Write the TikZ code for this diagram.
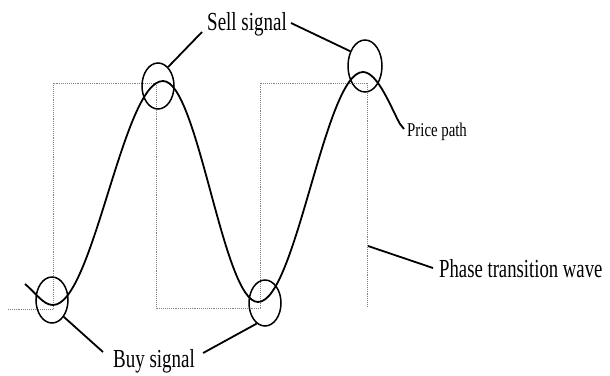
\documentclass[tikz,border=0pt]{standalone}
\usepackage{graphicx}
\usepackage{fontspec}
\setmainfont{Liberation Serif}
\usetikzlibrary{shapes.geometric}
\newcommand\bigtxt[2][0.73]{\scalebox{#1}[1]{\fontsize{26}{30}\selectfont #2}}
\newcommand\smalltxt[1]{\scalebox{0.76}[1]{\fontsize{19.5}{22}\selectfont #1}}
\begin{document}
\begin{tikzpicture}[x=1pt,y=-1pt,
  guide/.style={densely dotted, gray, line width=0.9pt},
  pricecurve/.style={line width=1.8pt, line join=round},
  ring/.style={ellipse, draw, line width=1.5pt, inner sep=0pt},
  pointer/.style={line width=1.8pt},
  lbl/.style={inner sep=0pt, anchor=base west}]
\useasboundingbox (0,0) rectangle (610,375);
% phase transition (square) wave
\draw[guide] (8,309) -- (53,309) -- (53,83) -- (156,83) -- (156,308) -- (260,308) -- (260,83) -- (367,83) -- (367,307);
% labels
\node[lbl] (sell) at (207,30) {\bigtxt{Sell signal}};
\node[lbl] (buy) at (113,367) {\bigtxt{Buy signal}};
\node[lbl] (phase) at (439,277) {\bigtxt[0.72]{Phase transition wave}};
\node[lbl] (price) at (407,136) {\smalltxt{Price path}};
% price path
\coordinate (pend) at (404,129);
\draw[pricecurve] (25,284) .. controls (36,293) and (43,305) .. (53,305)
  .. controls (93,305) and (123,81) .. (163,81)
  .. controls (198,81) and (223,302) .. (258,302)
  .. controls (296,302) and (325,72) .. (363,72)
  .. controls (378,72) and (392,110) .. (400,124) -- (pend);
% signal rings
\node[ring, minimum width=32pt, minimum height=46pt] (b1) at (52,300) {};
\node[ring, minimum width=32pt, minimum height=46pt] (s1) at (158,86) {};
\node[ring, minimum width=32pt, minimum height=46pt] (b2) at (265,303) {};
\node[ring, minimum width=34pt, minimum height=52pt] (s2) at (365,66) {};
% pointers
\draw[pointer] ([shift={(-5,2)}]sell.base west) -- (s1.62);
\draw[pointer] ([shift={(4,-7)}]sell.base east) -- (s2.135);
\draw[pointer] ([shift={(-10,-15)}]buy.base west) -- (b1.-55);
\draw[pointer] ([shift={(8,-14)}]buy.base east) -- (b2.-112);
\coordinate (ppt) at (368,246);
\draw[pointer] (ppt) -- ([shift={(-6,-9)}]phase.base west);
\end{tikzpicture}
\end{document}
